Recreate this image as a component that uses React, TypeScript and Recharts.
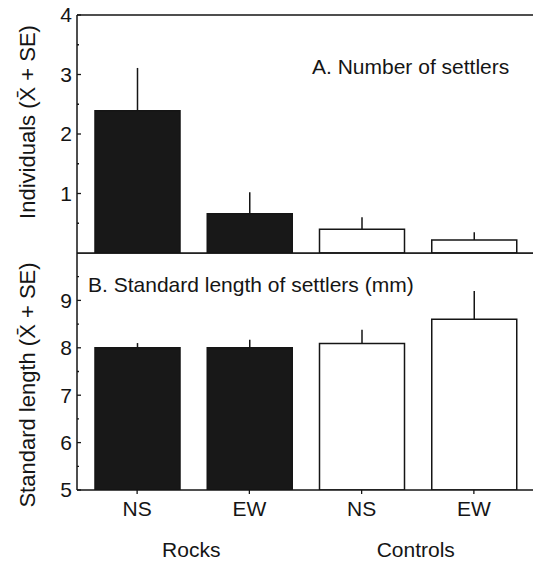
import React from 'react';
import { BarChart, Bar, XAxis, YAxis, ErrorBar, Cell, ReferenceLine } from 'recharts';

// ---- data ----
const sites = ['NS', 'EW', 'NS', 'EW'];
const groups = ['Rocks', 'Rocks', 'Controls', 'Controls'];
const filled = [true, true, false, false];
const countMean = [2.39, 0.66, 0.4, 0.22];
const countSE = [0.72, 0.36, 0.2, 0.13];
const lengthMean = [8.0, 8.0, 8.09, 8.6];
const lengthSE = [0.1, 0.17, 0.29, 0.6];
const countTicks = [0.5, 1, 1.5, 2, 2.5, 3, 3.5, 4];
const lengthTicks = [5, 5.5, 6, 6.5, 7, 7.5, 8, 8.5, 9, 9.5];
const countDomain: [number, number] = [0, 4];
const lengthDomain: [number, number] = [5, 10];
const titleA = 'A. Number of settlers';
const titleB = 'B. Standard length of settlers (mm)';
const yLabelA = 'Individuals (X\u0304 + SE)';
const yLabelB = 'Standard length (X\u0304 + SE)';

const countData = sites.map((s, i) => ({
  id: `${groups[i]}-${s}`,
  value: countMean[i],
  err: [0, countSE[i]],
}));
const lengthData = sites.map((s, i) => ({
  id: `${groups[i]}-${s}`,
  value: lengthMean[i],
  err: [0, lengthSE[i]],
}));

const FONT = '"Liberation Sans", Arial, Helvetica, sans-serif';
const INK = '#151515';
const TICK_MARGIN = 5;

const YTick = (props: any) => {
  const { x, y, payload } = props;
  const v = payload.value;
  const major = Number.isInteger(v);
  const ax = x + TICK_MARGIN;
  return (
    <g>
      <line x1={ax} x2={ax + (major ? 4 : 2)} y1={y} y2={y} stroke={INK} strokeWidth={1.3} />
      {major && (
        <text x={x} y={y} dy="0.355em" textAnchor="end" fontSize={21} fontFamily={FONT} fill={INK}>
          {v}
        </text>
      )}
    </g>
  );
};

const XTick = (props: any) => {
  const { x, y, payload, index } = props;
  const half = payload && typeof payload.offset === 'number' && payload.offset > 0 ? payload.offset : 56;
  return (
    <g>
      <text x={x} y={y + 22} textAnchor="middle" fontSize={21} fontFamily={FONT} fill={INK}>
        {sites[index]}
      </text>
      {index % 2 === 0 && (
        <text x={x + half - 2} y={y + 63} textAnchor="middle" fontSize={21} fontFamily={FONT} fill={INK}>
          {groups[index]}
        </text>
      )}
    </g>
  );
};

const axisStyle = { stroke: INK, strokeWidth: 1.5 };

export default function App() {
  return (
    <div style={{ position: 'absolute', left: 0, top: 0, width: 533, height: 562, background: '#fff' }}>
      <div style={{ position: 'absolute', left: 0, top: 0 }}>
        <BarChart width={533} height={254} data={countData} margin={{ top: 15, right: 0, bottom: 0, left: 0 }}>
          <XAxis
            dataKey="id"
            height={1}
            tick={false}
            tickLine={false}
            axisLine={axisStyle}
            padding={{ left: 4, right: 3 }}
          />
          <YAxis
            width={77}
            domain={countDomain}
            ticks={countTicks}
            interval={0}
            tickSize={0}
            tickMargin={TICK_MARGIN}
            tickLine={false}
            axisLine={axisStyle}
            tick={<YTick />}
            allowDataOverflow
          />
          <ReferenceLine y={4} stroke={INK} strokeWidth={1.5} />
          <Bar dataKey="value" barSize={85} isAnimationActive={false} stroke={INK} strokeWidth={1.5}>
            {countData.map((d, i) => (
              <Cell key={d.id} fill={filled[i] ? '#181818' : '#ffffff'} />
            ))}
            <ErrorBar dataKey="err" width={0} stroke={INK} strokeWidth={1.5} direction="y" isAnimationActive={false} />
          </Bar>
        </BarChart>
      </div>
      <div style={{ position: 'absolute', left: 0, top: 253 }}>
        <BarChart width={533} height={309} data={lengthData} margin={{ top: 0, right: 0, bottom: 0, left: 0 }}>
          <XAxis
            dataKey="id"
            height={72}
            tickSize={4}
            tickMargin={0}
            tickLine={{ stroke: INK, strokeWidth: 1.3 }}
            axisLine={axisStyle}
            interval={0}
            tick={<XTick />}
            padding={{ left: 4, right: 3 }}
          />
          <YAxis
            width={77}
            domain={lengthDomain}
            ticks={lengthTicks}
            interval={0}
            tickSize={0}
            tickMargin={TICK_MARGIN}
            tickLine={false}
            axisLine={axisStyle}
            tick={<YTick />}
            allowDataOverflow
          />
          <ReferenceLine y={10} stroke={INK} strokeWidth={1.5} />
          <Bar dataKey="value" barSize={85} isAnimationActive={false} stroke={INK} strokeWidth={1.5}>
            {lengthData.map((d, i) => (
              <Cell key={d.id} fill={filled[i] ? '#181818' : '#ffffff'} />
            ))}
            <ErrorBar dataKey="err" width={0} stroke={INK} strokeWidth={1.5} direction="y" isAnimationActive={false} />
          </Bar>
        </BarChart>
      </div>
      <svg
        width={533}
        height={562}
        style={{ position: 'absolute', left: 0, top: 0, pointerEvents: 'none' }}
      >
        <text x={312} y={74} fontSize={21} fontFamily={FONT} fill={INK}>
          {titleA}
        </text>
        <text x={88} y={292} fontSize={21} fontFamily={FONT} fill={INK}>
          {titleB}
        </text>
        <text
          x={0}
          y={0}
          transform="translate(35,122) rotate(-90)"
          textAnchor="middle"
          fontSize={22}
          fontFamily={FONT}
          fill={INK}
        >
          {yLabelA}
        </text>
        <text
          x={0}
          y={0}
          transform="translate(35,385) rotate(-90)"
          textAnchor="middle"
          fontSize={22}
          fontFamily={FONT}
          fill={INK}
        >
          {yLabelB}
        </text>
      </svg>
    </div>
  );
}
